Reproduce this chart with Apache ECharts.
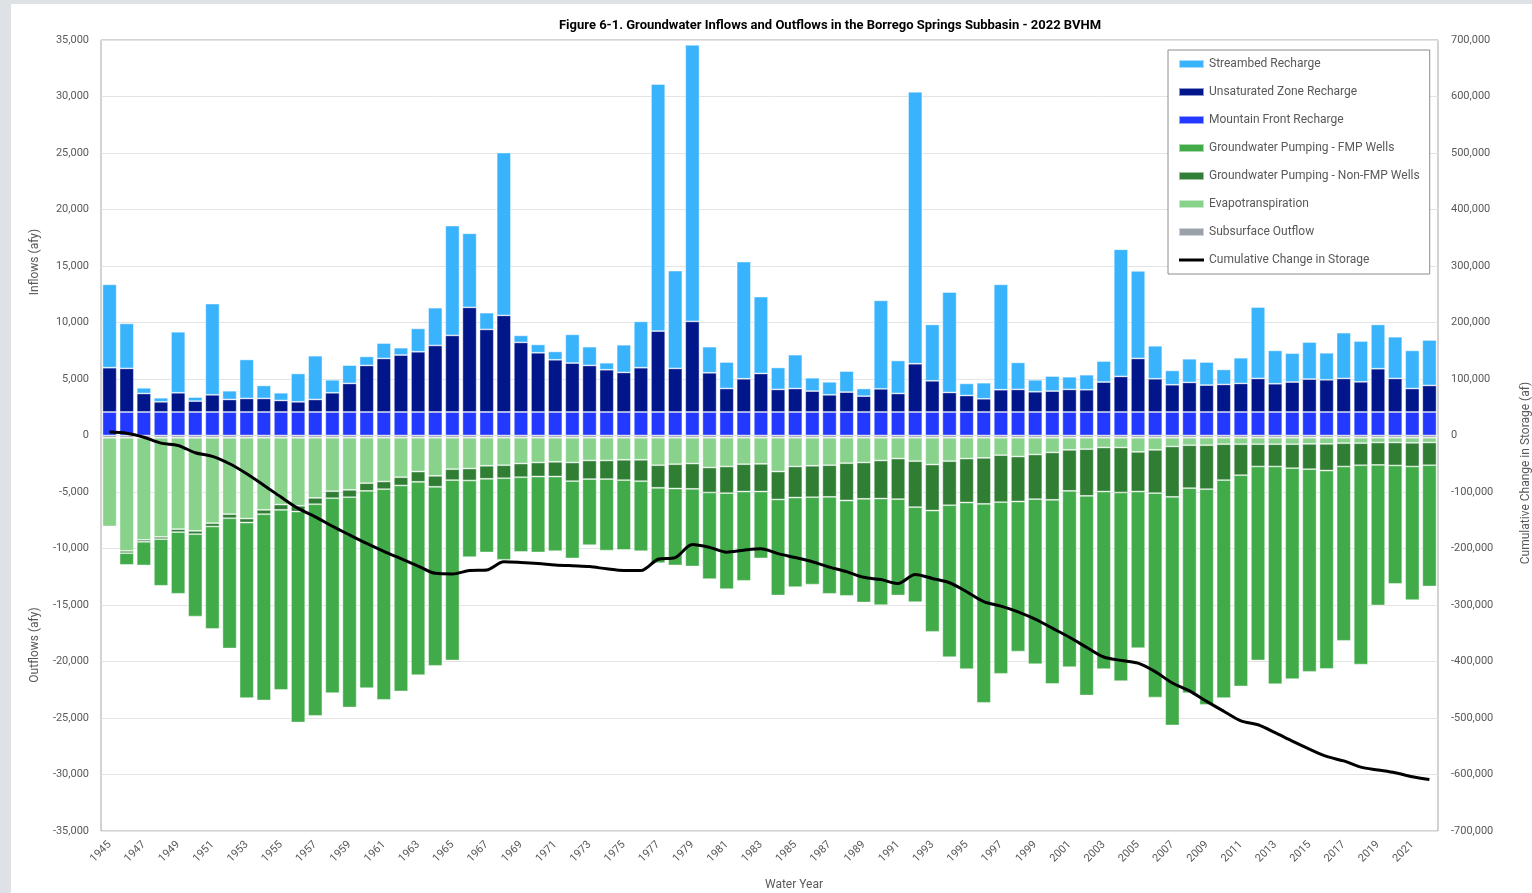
<!DOCTYPE html>
<html>
<head>
<meta charset="utf-8">
<script src="https://cdn.jsdelivr.net/npm/echarts@6/dist/echarts.min.js"></script>
<style>
  html, body { margin: 0; padding: 0; background: #dee1e5; }
  #chart { position: absolute; left: 11px; top: 4px; width: 1521px; height: 889px; background: #fff; }
</style>
</head>
<body>
<div id="chart"></div>
<script>
// water years on the category axis
const years = []
for (let y = 1945; y <= 2022; y++) years.push(String(y))

// inflows (afy)
const streambed = [7380, 3980, 500, 360, 5400, 360, 8070, 770, 3450, 1150, 680, 2510, 3870, 1150, 1620, 800, 1360, 650, 2070, 3340,
  9720, 6560, 1480, 14410, 620, 740, 740, 2540, 1660, 620, 2450, 4100, 21860, 8650, 24480, 2310, 2340, 10370, 6800, 1940,
  2990, 1180, 1150, 1860, 680, 7830, 2920, 24070, 4990, 8890, 1070, 1420, 9330, 2390, 1060, 1330, 1120, 1330, 1860, 11250,
  7740, 2920, 1270, 2090, 2040, 1330, 2270, 6320, 2950, 2560, 3280, 2390, 4050, 3610, 3920, 3690, 3370, 4020]
const unsaturated = [3920, 3860, 1640, 900, 1700, 960, 1520, 1110, 1200, 1200, 1020, 900, 1110, 1700, 2530, 4120, 4740, 5040, 5330, 5890,
  6780, 9260, 7310, 8550, 6160, 5240, 4620, 4330, 4120, 3740, 3500, 3920, 7160, 3860, 8020, 3470, 2080, 2940, 3410, 2000,
  2080, 1850, 1520, 1760, 1400, 2050, 1640, 4270, 2760, 1730, 1460, 1170, 1970, 2000, 1790, 1850, 2000, 1970, 2650, 3150,
  4740, 2940, 2410, 2620, 2380, 2440, 2530, 2970, 2500, 2650, 2910, 2850, 2970, 2670, 3830, 2970, 2080, 2350]
const mountainFront = [2080, 2080, 2080, 2080, 2080, 2080, 2080, 2080, 2080, 2080, 2080, 2080, 2080, 2080, 2080, 2080, 2080, 2080, 2080, 2080,
  2080, 2080, 2080, 2080, 2080, 2080, 2080, 2080, 2080, 2080, 2080, 2080, 2080, 2080, 2080, 2080, 2080, 2080, 2080, 2080,
  2080, 2080, 2080, 2080, 2080, 2080, 2080, 2080, 2080, 2080, 2080, 2080, 2080, 2080, 2080, 2080, 2080, 2080, 2080, 2080,
  2080, 2080, 2080, 2080, 2080, 2080, 2080, 2080, 2080, 2080, 2080, 2080, 2080, 2080, 2080, 2080, 2080, 2080]

// outflows (afy, magnitudes)
const pumpingFmp = [0, 1040, 2090, 4130, 5460, 7290, 9060, 11530, 15540, 16490, 15930, 18670, 18730, 17250, 18610, 17460, 18640, 18230, 17110, 15840,
  15960, 6790, 6520, 7220, 6610, 6720, 6610, 6840, 5850, 6320, 6170, 6200, 6670, 6810, 6870, 7670, 8500, 7900, 5920, 8500,
  7930, 7730, 8580, 8440, 9180, 9430, 8530, 8410, 10730, 13450, 14750, 17610, 15190, 13280, 14610, 16290, 15600, 17670, 15720, 16700,
  13860, 18090, 20230, 18140, 19080, 19290, 18700, 17170, 19270, 18670, 17930, 17550, 15430, 17640, 12440, 10480, 11830, 10730]
const pumpingNonFmp = [0, 200, 180, 200, 260, 290, 290, 360, 350, 380, 470, 510, 560, 620, 650, 680, 680, 730, 910, 970,
  970, 1060, 1150, 1150, 1210, 1240, 1300, 1650, 1650, 1650, 1800, 1890, 2000, 2150, 2240, 2210, 2360, 2420, 2450, 2470,
  2750, 2780, 2800, 3300, 3210, 3370, 3590, 4070, 4070, 3900, 3890, 4070, 4160, 3980, 3950, 4190, 3630, 4130, 3900, 3980,
  3510, 3830, 4460, 3800, 3890, 3180, 2740, 1970, 1970, 2120, 2240, 2360, 2060, 1950, 1980, 2030, 2090, 2010]
const evapotranspiration = [7850, 10010, 9030, 8770, 8090, 8240, 7560, 6760, 7150, 6380, 5910, 6020, 5320, 4730, 4610, 4020, 3870, 3490, 2990, 3370,
  2780, 2720, 2480, 2430, 2280, 2190, 2130, 2190, 2010, 2010, 1950, 1950, 2430, 2340, 2280, 2630, 2540, 2340, 2310, 2990,
  2540, 2480, 2430, 2250, 2190, 2010, 1840, 2070, 2370, 2070, 1840, 1780, 1540, 1660, 1480, 1300, 1070, 1010, 860, 860,
  1250, 1070, 770, 660, 660, 570, 570, 570, 570, 570, 540, 540, 480, 480, 420, 420, 450, 420]
const subsurfaceOutflow = [200, 200, 200, 200, 200, 200, 200, 200, 200, 200, 200, 200, 200, 200, 200, 200, 200, 200, 200, 200,
  200, 200, 200, 200, 200, 200, 200, 200, 200, 200, 200, 200, 200, 200, 200, 200, 200, 200, 200, 200,
  200, 200, 200, 200, 200, 200, 200, 200, 200, 200, 200, 200, 200, 200, 200, 200, 200, 200, 200, 200,
  200, 200, 200, 200, 200, 200, 200, 200, 200, 200, 200, 200, 200, 200, 200, 200, 200, 200]

// cumulative change in storage (af)
const cumulativeStorage = [6000, 4000, -3000, -13500, -17600, -30600, -37000, -50000, -67600, -88000, -109000, -129000, -144000, -160600, -176000, -191000, -205000, -218000, -231000, -244000,
  -245000, -239000, -238000, -223500, -224700, -226500, -229000, -230600, -232000, -236000, -239000, -239000, -219000, -216000, -193000, -198000, -206500, -203000, -200600, -209000,
  -216000, -223500, -233000, -241000, -251000, -255000, -262000, -246000, -253000, -260600, -276500, -294000, -302000, -312000, -325000, -341000, -357000, -375000, -392000, -398000,
  -403000, -418000, -438000, -452000, -470600, -488000, -505000, -512000, -526000, -541000, -555000, -568000, -576000, -587000, -592000, -597000, -604000, -609000]

const legendOrder = ['Streambed Recharge', 'Unsaturated Zone Recharge', 'Mountain Front Recharge',
  'Groundwater Pumping - FMP Wells', 'Groundwater Pumping - Non-FMP Wells', 'Evapotranspiration',
  'Subsurface Outflow', 'Cumulative Change in Storage']

const font = 'Roboto, "Open Sans", sans-serif'
const labelColor = '#595959'
const fmt = v => Number(v).toLocaleString('en-US')

function bar (name, data, color) {
  return {
    name: name,
    type: 'bar',
    stack: 'flows',
    barCategoryGap: '17%',
    data: data,
    itemStyle: { color: color, borderColor: 'rgba(255,255,255,0.55)', borderWidth: 0.8 }
  }
}
const neg = arr => arr.map(v => -v)

const chart = echarts.init(document.getElementById('chart'))

const option = {
  animation: false,
  textStyle: { fontFamily: font },
  grid: { left: 90, right: 94, top: 36, bottom: 62, show: true, borderColor: '#a6a6a6', borderWidth: 1 },
  legend: {
    data: legendOrder.map(n => n === 'Cumulative Change in Storage'
      ? { name: n, icon: 'path://M0,0 H25 V3 H0 Z' }
      : { name: n, icon: 'rect' }),
    orient: 'vertical',
    left: 1157,
    top: 46,
    padding: [7, 10, 7, 10],
    itemGap: 14,
    itemWidth: 25,
    itemHeight: 8,
    borderColor: '#8c8c8c',
    borderWidth: 1,
    backgroundColor: '#fff',
    textStyle: { color: labelColor, fontSize: 12, lineHeight: 14, fontFamily: font }
  },
  xAxis: {
    type: 'category',
    data: years,
    axisTick: { show: false },
    axisLine: { show: false },
    axisLabel: { interval: 1, rotate: 45, color: labelColor, fontSize: 11, margin: 12 }
  },
  yAxis: [
    {
      type: 'value',
      min: -35000,
      max: 35000,
      interval: 5000,
      axisLine: { show: false },
      axisTick: { show: false },
      splitLine: { lineStyle: { color: '#e4e4e4' } },
      axisLabel: { color: labelColor, fontSize: 11, margin: 12, formatter: fmt }
    },
    {
      type: 'value',
      min: -700000,
      max: 700000,
      interval: 100000,
      axisLine: { show: false },
      axisTick: { show: false },
      splitLine: { show: false },
      axisLabel: { color: labelColor, fontSize: 11, margin: 13, formatter: fmt }
    }
  ],
  series: [
    bar('Mountain Front Recharge', mountainFront, '#2339ff'),
    bar('Unsaturated Zone Recharge', unsaturated, '#00168a'),
    bar('Streambed Recharge', streambed, '#3ab3fd'),
    bar('Subsurface Outflow', neg(subsurfaceOutflow), '#9aa1a9'),
    bar('Evapotranspiration', neg(evapotranspiration), '#88d28c'),
    bar('Groundwater Pumping - Non-FMP Wells', neg(pumpingNonFmp), '#2f7e34'),
    bar('Groundwater Pumping - FMP Wells', neg(pumpingFmp), '#41ab49'),
    {
      name: 'Cumulative Change in Storage',
      type: 'line',
      yAxisIndex: 1,
      data: cumulativeStorage,
      smooth: 0.3,
      symbol: 'none',
      z: 10,
      itemStyle: { color: '#000' },
      lineStyle: { color: '#000', width: 3 }
    }
  ],
  graphic: [
    {
      type: 'text', x: 819, y: 22,
      style: { text: 'Figure 6-1. Groundwater Inflows and Outflows in the Borrego Springs Subbasin - 2022 BVHM',
        font: 'bold 13px ' + font, fill: '#000', align: 'center', verticalAlign: 'middle' }
    },
    {
      type: 'text', x: 24, y: 258, rotation: Math.PI / 2,
      style: { text: 'Inflows (afy)', font: '12px ' + font, fill: labelColor, align: 'center', verticalAlign: 'middle' }
    },
    {
      type: 'text', x: 24, y: 641, rotation: Math.PI / 2,
      style: { text: 'Outflows (afy)', font: '12px ' + font, fill: labelColor, align: 'center', verticalAlign: 'middle' }
    },
    {
      type: 'text', x: 1515, y: 469, rotation: Math.PI / 2,
      style: { text: 'Cumulative Change in Storage (af)', font: '12px ' + font, fill: labelColor, align: 'center', verticalAlign: 'middle' }
    },
    {
      type: 'text', x: 783, y: 881,
      style: { text: 'Water Year', font: '12px ' + font, fill: labelColor, align: 'center', verticalAlign: 'middle' }
    }
  ]
}

chart.setOption(option)
</script>
</body>
</html>
